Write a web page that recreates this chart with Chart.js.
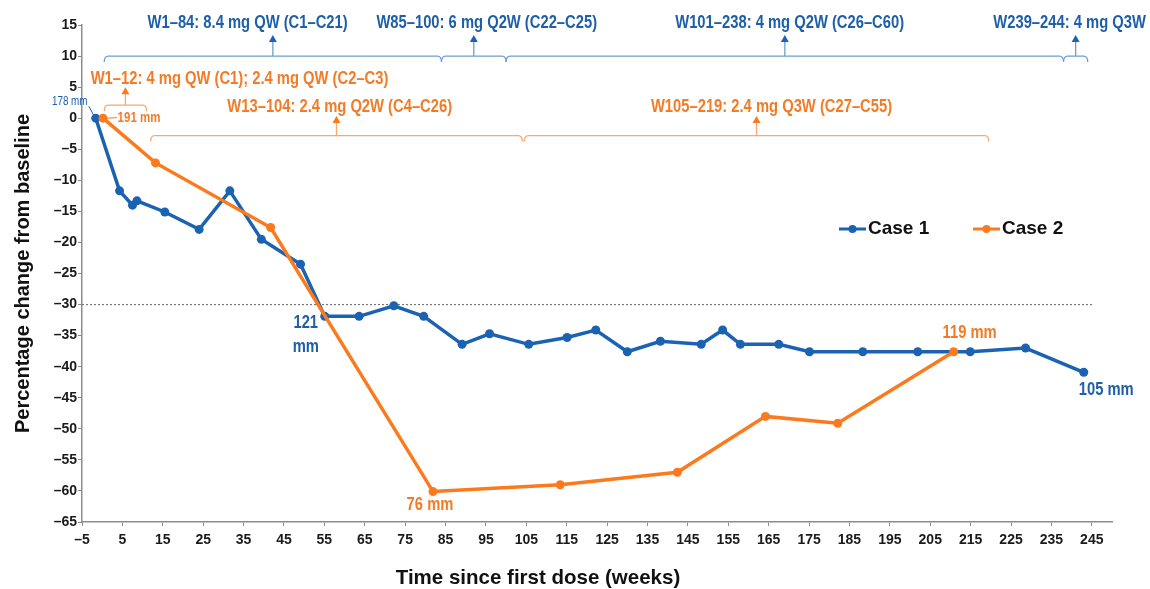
<!DOCTYPE html>
<html>
<head>
<meta charset="utf-8">
<script src="https://cdn.jsdelivr.net/npm/chart.js@4.4.1/dist/chart.umd.min.js"></script>
<style>
  html, body { margin: 0; padding: 0; background: #fff; }
  #wrap { width: 1150px; height: 589px; position: relative; }
</style>
</head>
<body>
<div id="wrap"><canvas id="lineChart"></canvas></div>
<script>
// x tick labels (weeks)
const xTicks = [-5, 5, 15, 25, 35, 45, 55, 65, 75, 85, 95, 105, 115, 125, 135, 145, 155, 165, 175, 185, 195, 205, 215, 225, 235, 245];

// Case 1 - % change from baseline
const case1Weeks = [-1.6, 4.3, 7.5, 8.6, 15.5, 24, 31.6, 39.4, 49.1, 55.1, 63.6, 72.2, 79.6, 89.1, 95.9, 105.6, 115.1, 122.2, 130, 138.2, 148.3, 153.6, 158, 167.5, 175.1, 188.3, 201.9, 214.9, 228.6, 243];
const case1Change = [0, -11.7, -14.0, -13.3, -15.1, -17.9, -11.7, -19.5, -23.5, -31.9, -31.9, -30.2, -31.9, -36.4, -34.7, -36.4, -35.3, -34.1, -37.6, -35.9, -36.4, -34.1, -36.4, -36.4, -37.6, -37.6, -37.6, -37.6, -37.0, -40.9];

// Case 2
const case2Weeks = [0.2, 13.2, 41.7, 81.9, 113.4, 142.4, 164.2, 182.1, 210.8];
const case2Change = [0, -7.2, -17.6, -60.1, -59.0, -57.0, -48.0, -49.1, -37.6];

// -30% response threshold
const thresholdWeeks = [-5, 245.5];
const thresholdValue = -30;

// dosing regimens
const case1RegimenLabels = ['W1–84: 8.4 mg QW (C1–C21)', 'W85–100: 6 mg Q2W (C22–C25)', 'W101–238: 4 mg Q2W (C26–C60)', 'W239–244: 4 mg Q3W'];
const case1RegimenWeeks = [[0.5, 84], [84, 100], [100, 238], [238, 244]];
const case2RegimenLabels = ['W1–12: 4 mg QW (C1); 2.4 mg QW (C2–C3)', 'W13–104: 2.4 mg Q2W (C4–C26)', 'W105–219: 2.4 mg Q3W (C27–C55)'];
const case2RegimenWeeks = [[0.5, 11], [12, 104], [104.5, 219.5]];

const blue = '#1b63b2';
const orange = '#fc7a1e';
const blueText = '#1e5fa9';
const orangeText = '#f47b25';
const blueBracket = '#6e9dd4';
const orangeBracket = '#f8a870';
const sans = "'Liberation Sans', Arial, sans-serif";
const narrowScale = 0.82;

// bracket placement: level in y units, arrow/text heights in px above the bracket
const case1RegimenLayout = { level: [10, 10, 10, 10], arrow: [21, 21, 21, 21], text: [28.5, 28.5, 28.5, 28.5], textWeek: [36.0, 95.2, 170.2, 239.5] };
const case2RegimenLayout = { level: [2.1, -2.8, -2.8], arrow: [18, 19.5, 19.5], text: [21, 23.5, 23.5], textWeek: [34.0, 58.8, 165.7] };

// tumour size labels attached to points
const sizeLabels = [
    { series: 0, point: 0, lines: ['178 mm'], dx: -26, dy: -17, size: 12, bold: false, color: blueText, leader: [-2, -3, -7, -12] },
    { series: 1, point: 0, lines: ['191 mm'], dx: 36, dy: -0.5, size: 14, bold: true, color: orangeText, leader: [3, 0, 14, -0.5] },
    { series: 0, point: 9, lines: ['121', 'mm'], dx: -19, dy: 7, size: 18, bold: true, color: blueText },
    { series: 0, point: 29, lines: ['105 mm'], dx: 22.5, dy: 17.5, size: 18, bold: true, color: blueText },
    { series: 1, point: 8, lines: ['119 mm'], dx: 16, dy: -18.7, size: 18, bold: true, color: orangeText },
    { series: 1, point: 3, lines: ['76 mm'], dx: -3, dy: 13, size: 18, bold: true, color: orangeText }
];

function toPoints(xs, ys) {
    return xs.map(function (v, i) { return { x: v, y: ys[i] }; });
}

// condensed text (no narrow font installed)
function fillNarrow(ctx, text, x, y) {
    ctx.save();
    ctx.translate(x, y);
    ctx.scale(narrowScale, 1);
    ctx.fillText(text, 0, 0);
    ctx.restore();
}

function drawRegimens(ctx, x, y, labels, weeks, layout, lineColor, arrowColor, textColor) {
    labels.forEach(function (label, i) {
        const x1 = x.getPixelForValue(weeks[i][0]);
        const x2 = x.getPixelForValue(weeks[i][1]);
        const yb = y.getPixelForValue(layout.level[i]);
        const ax = (x1 + x2) / 2;
        ctx.strokeStyle = lineColor;
        ctx.lineWidth = 1.3;
        ctx.beginPath();
        ctx.moveTo(x1, yb + 6);
        ctx.quadraticCurveTo(x1, yb, x1 + 4, yb);
        ctx.lineTo(x2 - 4, yb);
        ctx.quadraticCurveTo(x2, yb, x2, yb + 6);
        ctx.stroke();
        const tip = yb - layout.arrow[i];
        ctx.beginPath();
        ctx.moveTo(ax, yb);
        ctx.lineTo(ax, tip + 6);
        ctx.stroke();
        ctx.fillStyle = arrowColor;
        ctx.beginPath();
        ctx.moveTo(ax, tip);
        ctx.lineTo(ax - 4, tip + 7);
        ctx.lineTo(ax + 4, tip + 7);
        ctx.closePath();
        ctx.fill();
        ctx.fillStyle = textColor;
        ctx.font = 'bold 18px ' + sans;
        ctx.textAlign = 'center';
        ctx.textBaseline = 'alphabetic';
        fillNarrow(ctx, label, x.getPixelForValue(layout.textWeek[i]), yb - layout.text[i]);
    });
}

const doseAnnotations = {
    id: 'doseAnnotations',
    afterDraw(chart) {
        const { ctx, scales: { x, y } } = chart;
        ctx.save();
        drawRegimens(ctx, x, y, case1RegimenLabels, case1RegimenWeeks, case1RegimenLayout, blueBracket, blue, blueText);
        drawRegimens(ctx, x, y, case2RegimenLabels, case2RegimenWeeks, case2RegimenLayout, orangeBracket, orange, orangeText);

        sizeLabels.forEach(function (s) {
            const pt = chart.getDatasetMeta(s.series).data[s.point];
            if (s.leader) {
                ctx.strokeStyle = s.color;
                ctx.lineWidth = 1;
                ctx.beginPath();
                ctx.moveTo(pt.x + s.leader[0], pt.y + s.leader[1]);
                ctx.lineTo(pt.x + s.leader[2], pt.y + s.leader[3]);
                ctx.stroke();
            }
            ctx.fillStyle = s.color;
            ctx.font = (s.bold ? 'bold ' : '') + s.size + 'px ' + sans;
            ctx.textAlign = 'center';
            ctx.textBaseline = 'middle';
            s.lines.forEach(function (line, k) {
                fillNarrow(ctx, line, pt.x + s.dx, pt.y + s.dy + k * 23.5);
            });
        });

        // legend
        const legendItems = [
            { label: chart.data.datasets[0].label, color: blue, x: 839 },
            { label: chart.data.datasets[1].label, color: orange, x: 973 }
        ];
        legendItems.forEach(function (item) {
            ctx.strokeStyle = item.color;
            ctx.fillStyle = item.color;
            ctx.lineWidth = 3;
            ctx.beginPath();
            ctx.moveTo(item.x, 229);
            ctx.lineTo(item.x + 27, 229);
            ctx.stroke();
            ctx.beginPath();
            ctx.arc(item.x + 13.5, 229, 4, 0, Math.PI * 2);
            ctx.fill();
            ctx.fillStyle = '#111';
            ctx.font = 'bold 19px ' + sans;
            ctx.textAlign = 'left';
            ctx.textBaseline = 'middle';
            ctx.fillText(item.label, item.x + 29, 229);
        });

        // x axis title
        ctx.fillStyle = '#111';
        ctx.font = 'bold 20.5px ' + sans;
        ctx.textAlign = 'center';
        ctx.textBaseline = 'middle';
        ctx.fillText('Time since first dose (weeks)', 538, 578);
        ctx.restore();
    }
};

const lineChart = document.getElementById('lineChart');
if (lineChart) {
    const lineChartVar = new Chart(lineChart, {
        type: 'line',
        data: {
            datasets: [
                {
                    label: 'Case 1',
                    data: toPoints(case1Weeks, case1Change),
                    borderColor: blue,
                    backgroundColor: blue,
                    borderWidth: 3.5,
                    pointRadius: 4.5,
                    pointBorderWidth: 0,
                    tension: 0,
                    order: 1
                },
                {
                    label: 'Case 2',
                    data: toPoints(case2Weeks, case2Change),
                    borderColor: orange,
                    backgroundColor: orange,
                    borderWidth: 3.5,
                    pointRadius: 4.5,
                    pointBorderWidth: 0,
                    tension: 0,
                    order: 0
                },
                {
                    label: 'Threshold',
                    data: thresholdWeeks.map(function (w) { return { x: w, y: thresholdValue }; }),
                    borderColor: '#777',
                    borderWidth: 1.2,
                    borderDash: [2, 2],
                    pointRadius: 0,
                    order: 2
                }
            ]
        },
        options: {
            responsive: true,
            maintainAspectRatio: false,
            animation: false,
            layout: {
                padding: { top: 25, right: 38, bottom: 0, left: 0 }
            },
            plugins: {
                legend: { display: false },
                tooltip: { enabled: false }
            },
            scales: {
                x: {
                    type: 'linear',
                    min: -5,
                    max: 250,
                    afterBuildTicks: function (scale) {
                        scale.ticks = xTicks.map(function (v) { return { value: v }; });
                    },
                    afterFit: function (scale) { scale.height = 67; },
                    border: { color: '#8c8c8c', width: 1.5 },
                    grid: {
                        drawOnChartArea: false,
                        drawTicks: true,
                        tickLength: 4,
                        color: '#8c8c8c'
                    },
                    ticks: {
                        autoSkip: false,
                        maxRotation: 0,
                        padding: 6,
                        color: '#1a1a1a',
                        font: { family: sans, size: 14, weight: 'bold' },
                        callback: function (v) { return String(v).replace('-', '–'); }
                    }
                },
                y: {
                    min: -65,
                    max: 15,
                    afterFit: function (scale) { scale.width = 82; },
                    border: { color: '#8c8c8c', width: 1.5 },
                    grid: {
                        drawOnChartArea: false,
                        drawTicks: true,
                        tickLength: 4,
                        color: '#8c8c8c'
                    },
                    ticks: {
                        stepSize: 5,
                        padding: 1,
                        color: '#1a1a1a',
                        font: { family: sans, size: 14, weight: 'bold' },
                        callback: function (v) { return String(v).replace('-', '–'); }
                    },
                    title: {
                        display: true,
                        text: 'Percentage change from baseline',
                        color: '#111',
                        font: { family: sans, size: 20, weight: 'bold' },
                        padding: { top: 11, bottom: 0 }
                    }
                }
            }
        },
        plugins: [doseAnnotations]
    });
}
</script>
</body>
</html>
